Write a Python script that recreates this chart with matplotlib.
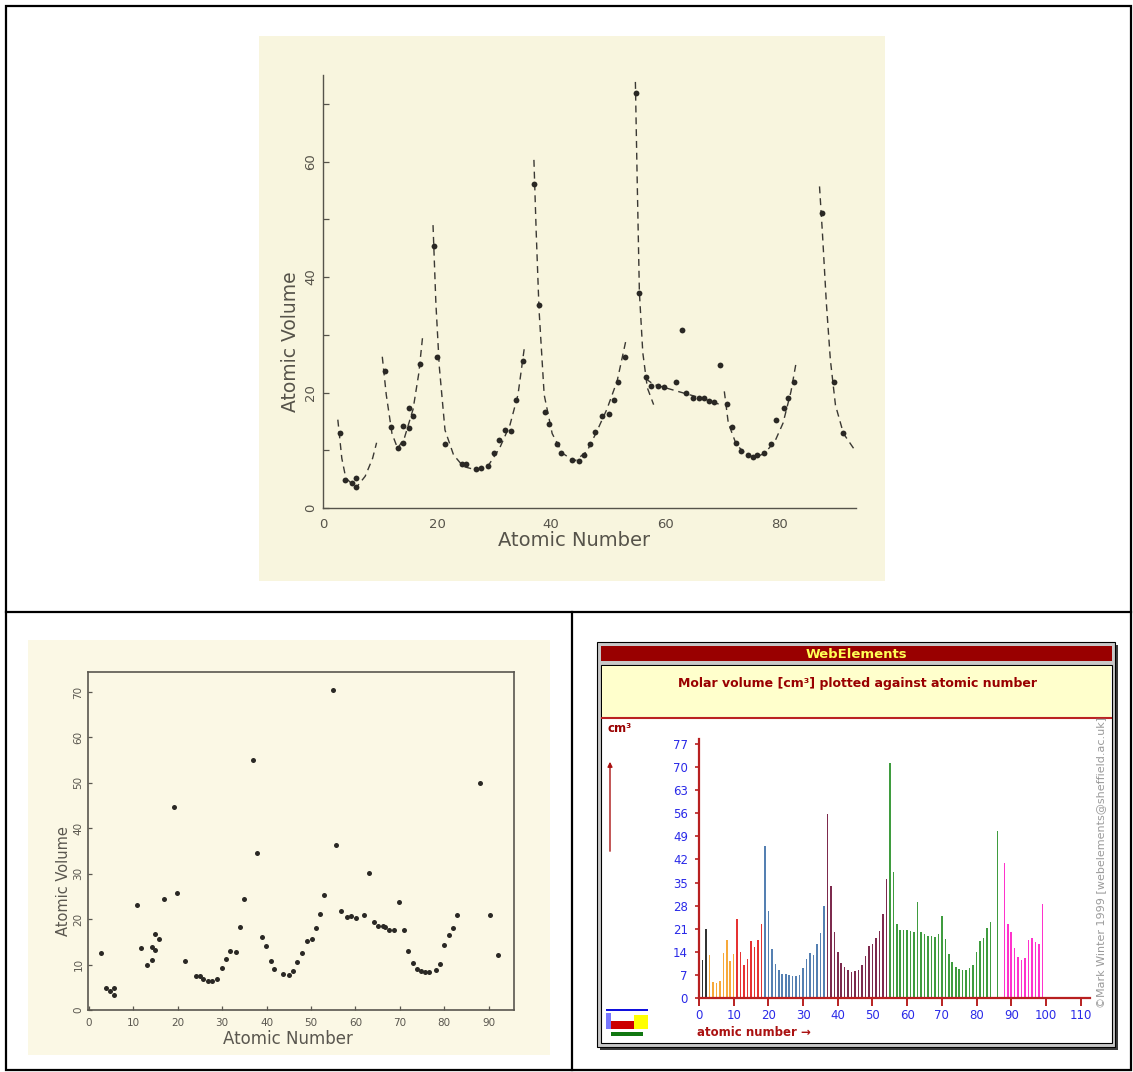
import matplotlib
matplotlib.use("Agg")
import matplotlib.pyplot as plt
from matplotlib.patches import Rectangle

W, H = 1133, 1072

# ---- top panel: atomic volume vs atomic number (dots + dashed guides)
top_z = [3.0, 3.9, 5.0, 5.8, 5.8, 10.9, 11.9, 13.1, 14.1, 14.1, 15.0, 15.0,
         15.8, 17.0, 19.4, 20.0, 21.4, 24.3, 25.0, 26.9, 27.8, 28.9, 30.0,
         30.9, 31.9, 33.0, 33.9, 35.0, 37.0, 37.9, 39.0, 39.7, 41.0, 41.7,
         43.6, 44.9, 45.8, 46.8, 47.8, 49.0, 50.1, 51.0, 51.8, 52.9, 54.9,
         55.5, 56.7, 57.6, 58.8, 59.9, 61.9, 62.9, 63.7, 64.9, 66.0, 66.9,
         67.7, 68.6, 69.6, 70.8, 71.7, 72.5, 73.4, 74.5, 75.4, 76.2, 77.4,
         78.6, 79.5, 80.8, 81.5, 82.6, 87.6, 89.6, 91.2]
top_vol = [13.0, 4.8, 4.4, 5.2, 3.7, 23.7, 14.1, 10.4, 11.3, 14.2, 13.9, 17.3,
           16.0, 25.0, 45.3, 26.2, 11.1, 7.7, 7.6, 6.7, 6.9, 7.3, 9.6,
           11.8, 13.5, 13.3, 18.7, 25.4, 56.2, 35.2, 16.7, 14.6, 11.1, 9.5,
           8.3, 8.2, 9.1, 11.0, 13.2, 15.9, 16.2, 18.7, 21.9, 26.1, 71.8,
           37.2, 22.7, 21.1, 21.2, 20.9, 21.9, 30.9, 19.9, 19.1, 19.1, 19.0,
           18.5, 18.4, 24.7, 18.1, 14.0, 11.2, 9.9, 9.2, 8.9, 9.1, 9.6,
           11.0, 15.3, 17.3, 19.0, 21.9, 51.1, 21.9, 13.0]

# dashed guide curves, one list per period
guide_x = [
    [2.6, 3.3, 4.0, 5.8, 7.4, 8.7, 9.4],
    [10.4, 11.1, 12.1, 13.1, 14.3, 15.8, 16.8, 17.5],
    [19.3, 19.8, 20.4, 21.4, 22.9, 24.6, 26.8, 28.9, 31.0, 32.8, 34.2, 35.3],
    [37.0, 37.4, 37.9, 38.8, 40.2, 42.0, 44.1, 46.3, 48.0, 49.8, 51.6, 53.2],
    [54.8, 55.1, 55.5, 56.1, 56.9, 58.0],
    [56.6, 58.0, 59.8, 61.9, 64.0, 66.9, 69.7],
    [70.4, 71.1, 72.5, 74.0, 75.7, 77.5, 79.3, 80.7, 82.1, 83.0],
    [87.1, 87.6, 88.3, 89.0, 89.9, 91.3, 93.1],
]
guide_y = [
    [15.3, 8.6, 5.2, 3.5, 5.5, 8.6, 11.3],
    [26.2, 19.6, 12.9, 10.3, 12.2, 17.1, 23.3, 29.9],
    [49.0, 35.5, 24.5, 13.5, 9.2, 7.2, 6.6, 7.2, 10.4, 14.4, 19.6, 27.6],
    [60.3, 47.8, 34.3, 19.6, 12.9, 9.5, 8.1, 9.8, 13.2, 17.1, 22.0, 29.3],
    [73.8, 57.6, 37.4, 26.9, 20.8, 17.9],
    [22.4, 21.4, 20.9, 20.3, 19.7, 18.9, 17.9],
    [20.2, 14.7, 11.0, 9.5, 8.7, 9.5, 11.6, 14.7, 20.2, 25.2],
    [55.7, 47.8, 35.5, 25.7, 17.8, 12.9, 10.3],
]

# ---- bottom-left panel: scatter only
bl_z = [2.7, 3.9, 4.8, 5.6, 5.6, 10.7, 11.7, 13.0, 14.1, 14.1, 14.9, 14.9,
        15.7, 17.0, 19.2, 19.9, 21.6, 24.0, 24.9, 25.7, 26.7, 27.7, 28.8,
        30.0, 30.9, 31.8, 33.0, 34.0, 35.0, 37.0, 37.9, 39.0, 39.8, 41.0,
        41.7, 43.8, 45.0, 46.0, 46.8, 47.9, 49.1, 50.2, 51.2, 52.0, 52.9,
        55.0, 55.6, 56.8, 58.1, 59.1, 60.1, 62.0, 63.1, 64.1, 65.1, 66.1,
        66.7, 67.6, 68.6, 69.8, 70.9, 71.9, 72.9, 73.8, 74.8, 75.7, 76.5,
        78.1, 79.0, 80.0, 81.0, 81.9, 82.9, 88.1, 90.2, 92.0]
bl_vol = [12.5, 4.8, 4.2, 4.9, 3.3, 23.1, 13.6, 9.9, 11.1, 13.8, 13.3, 16.7,
          15.7, 24.5, 44.6, 25.8, 10.8, 7.4, 7.4, 6.8, 6.3, 6.4, 6.9,
          9.2, 11.3, 12.9, 12.7, 18.2, 24.5, 55.0, 34.5, 16.0, 14.0, 10.7,
          9.1, 8.0, 7.7, 8.5, 10.5, 12.5, 15.1, 15.6, 18.1, 21.1, 25.4,
          70.5, 36.3, 21.9, 20.5, 20.6, 20.3, 21.0, 30.1, 19.4, 18.4, 18.4,
          18.2, 17.7, 17.7, 23.7, 17.5, 13.0, 10.3, 9.1, 8.5, 8.3, 8.3,
          8.8, 10.1, 14.4, 16.4, 18.1, 21.0, 50.0, 20.9, 12.0]

# ---- bottom-right panel: WebElements molar volume bars
we_z = list(range(1, 85)) + [86] + list(range(88, 100))
we_vol = [11.6, 21.0, 13.0, 4.9, 4.5, 5.2, 13.7, 17.6, 11.3, 13.4,
          23.9, 14.0, 10.1, 11.9, 17.3, 15.4, 17.6, 22.5, 45.9, 26.3,
          15.0, 10.5, 8.5, 7.4, 7.35, 7.1, 6.7, 6.6, 7.1, 9.2,
          11.8, 13.6, 13.0, 16.4, 19.8, 28.0, 55.8, 33.9, 19.9, 14.0,
          10.8, 9.4, 8.6, 8.1, 8.4, 8.5, 10.1, 12.9, 15.8, 16.4,
          18.2, 20.4, 25.5, 36.0, 71.1, 38.1, 22.4, 20.7, 20.7, 20.7,
          20.3, 20.0, 29.1, 20.0, 19.3, 18.9, 18.9, 18.6, 19.3, 24.9,
          17.9, 13.3, 10.9, 9.5, 8.8, 8.5, 8.5, 9.2, 10.2, 14.1,
          17.3, 18.2, 21.4, 23.2, 50.5, 40.9, 22.5, 20.0, 15.1, 12.6,
          11.6, 12.3, 17.6, 18.2, 16.9, 16.4, 28.5]
period_ends = [2, 10, 18, 36, 54, 86, 118]
period_colors = ['#333333', '#f7a93a', '#e63232', '#5580b2', '#7d2a4d',
                 '#3f9c3f', '#ff33cc']
we_yticks = list(range(0, 78, 7))
we_xticks = list(range(0, 111, 10))


def px_rect(x0, y0, x1, y1):
    return [x0 / W, 1 - y1 / H, (x1 - x0) / W, (y1 - y0) / H]


def period_color(z):
    for end, col in zip(period_ends, period_colors):
        if z <= end:
            return col
    return period_colors[-1]


fig = plt.figure(figsize=(W / 100, H / 100), dpi=100)

# page-level drawing layer in pixel units
bg = fig.add_axes([0, 0, 1, 1])
bg.set_xlim(0, W)
bg.set_ylim(H, 0)
bg.axis('off')

bg.add_patch(Rectangle((259, 36), 626, 545, fc='#f8f5de', ec='none'))
bg.add_patch(Rectangle((28, 640), 522, 415, fc='#fbf8e5', ec='none'))

bg.add_patch(Rectangle((6, 6), 1125, 1064, fc='none', ec='black', lw=1.6))
bg.plot([6, 1131], [612, 612], color='black', lw=1.6)
bg.plot([572, 572], [612, 1070], color='black', lw=1.6)

# WebElements window
bg.add_patch(Rectangle((600, 645), 518, 405, fc='#3a3a3a', ec='none'))
bg.add_patch(Rectangle((597, 642), 518, 405, fc='#c8c8c8', ec='black', lw=0.8))
bg.add_patch(Rectangle((601, 646), 511, 15, fc='#990000', ec='none'))
bg.add_patch(Rectangle((601, 665), 511, 378, fc='white', ec='black', lw=0.8))
bg.add_patch(Rectangle((602, 666), 509, 51, fc='#ffffcc', ec='none'))
bg.plot([602, 1111], [718, 718], color='#bb2222', lw=1.5)
bg.text(856, 654, 'WebElements', color='#ffff55', fontsize=9.5,
        fontweight='bold', ha='center', va='center')
bg.text(857, 683, 'Molar volume [cm³] plotted against atomic number',
        color='#990000', fontsize=9, fontweight='bold', ha='center', va='center')
bg.text(607, 728, 'cm³', color='#990000', fontsize=8.5, fontweight='bold',
        ha='left', va='center')
bg.text(697, 1033, 'atomic number →', color='#aa1111', fontsize=8.5,
        fontweight='bold', ha='left', va='center')
bg.text(1101, 862, '©Mark Winter 1999 [webelements@sheffield.ac.uk]',
        color='#9a9a9a', fontsize=8, rotation=90, ha='center', va='center')
bg.annotate('', xy=(610, 759), xytext=(610, 854),
            arrowprops=dict(arrowstyle='-|>', color='#aa1111', lw=1.0,
                            mutation_scale=7))
# little periodic-table icon
bg.add_patch(Rectangle((606, 1009), 42, 1.8, fc='#1111dd', ec='none'))
bg.add_patch(Rectangle((606, 1013), 5, 16, fc='#7777ff', ec='none'))
bg.add_patch(Rectangle((611, 1021), 23, 8.3, fc='#cc0000', ec='none'))
bg.add_patch(Rectangle((634, 1015), 14, 14.3, fc='#ffff00', ec='none'))
bg.add_patch(Rectangle((611, 1032), 32, 4, fc='#117711', ec='none'))

# ---- top plot
ink = '#56534a'
ax1 = fig.add_axes(px_rect(323, 75, 856, 508))
ax1.patch.set_visible(False)
ax1.set_xlim(0, 93.5)
ax1.set_ylim(0, 75)
for s in ['top', 'right']:
    ax1.spines[s].set_visible(False)
for s in ['left', 'bottom']:
    ax1.spines[s].set_color(ink)
    ax1.spines[s].set_linewidth(1.0)
for xs, ys in zip(guide_x, guide_y):
    ax1.plot(xs, ys, color='#3a3833', lw=1.0, ls=(0, (5, 3.5)))
ax1.plot(top_z, top_vol, 'o', color='#2a2824', ms=4.2, mec='none')
ax1.set_xticks([0, 20, 40, 60, 80])
ax1.set_yticks([0, 20, 40, 60])
ax1.set_yticks([10, 30, 50, 70], minor=True)
ax1.tick_params(which='both', direction='in', colors=ink, labelsize=9.5,
                length=4, width=0.9)
ax1.tick_params(axis='x', length=0, pad=7)
ax1.tick_params(axis='y', labelrotation=90, pad=4)
for lab in ax1.get_yticklabels():
    lab.set_va('center')
ax1.set_xlabel('Atomic Number', fontsize=14, color=ink)
ax1.xaxis.set_label_coords(574, 541, transform=bg.transData)
ax1.xaxis.label.set_va('center')
ax1.set_ylabel('Atomic Volume', fontsize=13.5, color=ink)
ax1.yaxis.set_label_coords(291, 342, transform=bg.transData)
ax1.yaxis.label.set_va('center')

# ---- bottom-left plot
ink2 = '#5a574f'
ax2 = fig.add_axes(px_rect(87.5, 672, 513.5, 1010))
ax2.patch.set_visible(False)
ax2.set_xlim(-0.34, 95.6)
ax2.set_ylim(0, 74.4)
for s in ax2.spines.values():
    s.set_color(ink2)
    s.set_linewidth(1.2)
ax2.plot(bl_z, bl_vol, 'o', color='#2a2824', ms=3.6, mec='none')
ax2.set_xticks(range(0, 91, 10))
ax2.set_yticks(range(0, 71, 10))
ax2.tick_params(direction='in', colors=ink2, labelsize=7.5, length=3, width=0.9)
ax2.tick_params(axis='x', pad=6)
ax2.tick_params(axis='y', labelrotation=90, pad=3)
for lab in ax2.get_yticklabels():
    lab.set_va('center')
ax2.set_xlabel('Atomic Number', fontsize=12, color=ink2)
ax2.xaxis.set_label_coords(288, 1039, transform=bg.transData)
ax2.xaxis.label.set_va('center')
ax2.set_ylabel('Atomic Volume', fontsize=10.5, color=ink2)
ax2.yaxis.set_label_coords(63, 881, transform=bg.transData)
ax2.yaxis.label.set_va('center')

# ---- WebElements bar chart
red = '#b82020'
ax3 = fig.add_axes(px_rect(699, 739, 1090, 998.3))
ax3.patch.set_visible(False)
ax3.set_xlim(0, 112.7)
ax3.set_ylim(0, 78.4)
ax3.bar(we_z, we_vol, width=0.45, color=[period_color(z) for z in we_z])
for s in ['top', 'right']:
    ax3.spines[s].set_visible(False)
for s in ['left', 'bottom']:
    ax3.spines[s].set_color(red)
    ax3.spines[s].set_linewidth(1.6)
ax3.set_yticks(we_yticks)
ax3.set_xticks(we_xticks)
ax3.tick_params(axis='y', direction='out', length=3, width=1.2, color=red,
                labelcolor='#2a2ae8', labelsize=8.5, pad=5)
ax3.tick_params(axis='x', direction='out', length=6, width=1.4, color=red,
                labelcolor='#2a2ae8', labelsize=8.5, pad=2)

fig.savefig('out.png', dpi=100)
